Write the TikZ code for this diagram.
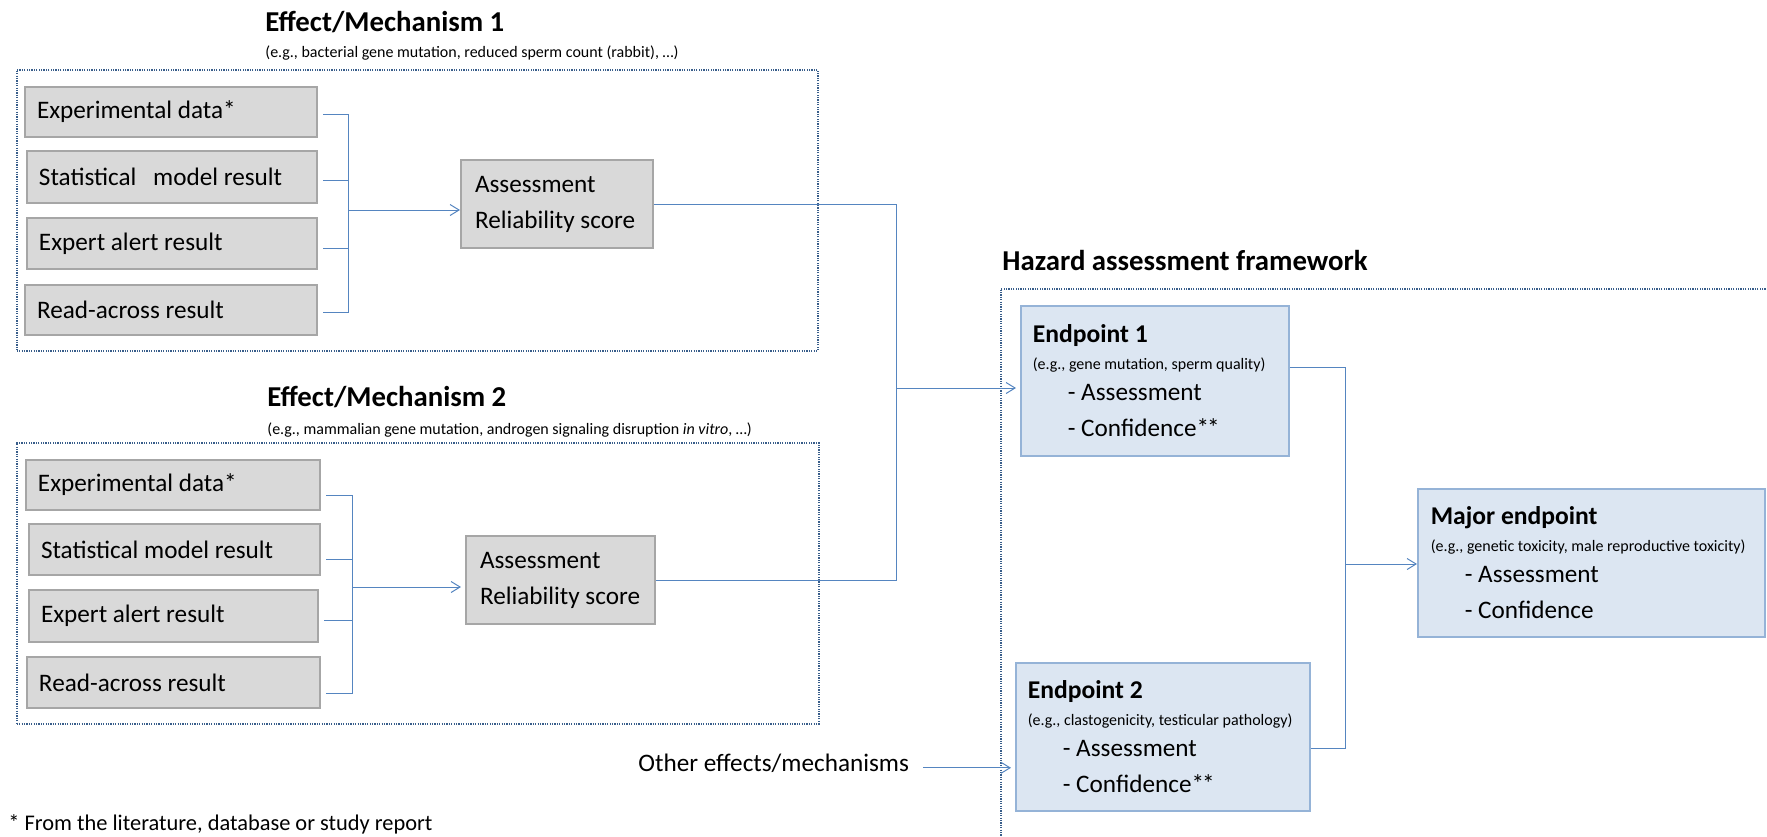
\documentclass[tikz,border=0pt]{standalone}
\usepackage{fontspec}
\setmainfont{Carlito}
\usetikzlibrary{arrows.meta}
\definecolor{gfill}{HTML}{D9D9D9}
\definecolor{gline}{HTML}{A6A6A6}
\definecolor{bfill}{HTML}{DCE6F2}
\definecolor{bline}{HTML}{95B3D7}
\definecolor{connc}{HTML}{5585C0}
\definecolor{dotc}{HTML}{385D8A}
\newcommand{\bodyfont}{\fontsize{12.6}{18}\selectfont}
\newcommand{\smallfont}{\fontsize{8}{10}\selectfont}
\newcommand{\titlefont}{\fontsize{14.4}{17}\selectfont\bfseries}
\newcommand{\epfont}{\fontsize{12.8}{18}\selectfont\bfseries}
\newcommand{\twostars}{*\kern-1pt*}
\begin{document}
\begin{tikzpicture}[x=0.5pt, y=-0.5pt,
  boxtext/.style={align=left, font=\bodyfont, execute at begin node={\spaceskip=0pt\xspaceskip=0pt\relax}},
  graybox/.style={boxtext, draw=gline, fill=gfill, line width=1pt, anchor=north west, inner xsep=6pt, inner ysep=0pt},
  bluebox/.style={boxtext, draw=bline, fill=bfill, line width=0.8pt, anchor=north west, inner xsep=6pt, inner ysep=0pt},
  dotbox/.style={draw=dotc, line width=0.75pt, dash pattern=on 0.6pt off 0.6pt, anchor=north west, inner sep=0pt},
  conline/.style={draw=connc, line width=0.5pt},
  arr/.style={conline, -{Straight Barb[length=4.5pt,width=5.5pt]}},
  title/.style={anchor=base west, inner sep=0pt, font=\titlefont},
  subtitle/.style={anchor=base west, inner sep=0pt, font=\smallfont},
  plain/.style={anchor=base west, inner sep=0pt, font=\bodyfont},
]
\useasboundingbox (0,0) rectangle (1767,836);
\clip (0,0) rectangle (1767,836);

% ---------- Effect / Mechanism 1 ----------
\node[title] (t1) at (265,31) {Effect/Mechanism 1};
\node[subtitle] (s1) at (265,57) {(e.g., bacterial gene mutation, reduced sperm count (rabbit), …)};
\node[dotbox, minimum width=400.5pt, minimum height=140.5pt] (g1) at (16,69) {};

\node[graybox, text width=134pt, minimum height=25pt] (m1a) at (24,86) {Experimental data*};
\node[graybox, text width=133pt, minimum height=26pt] (m1b) at (26,150) {Statistical\hspace{5.5pt} model result};
\node[graybox, text width=133pt, minimum height=25.5pt] (m1c) at (26,217) {Expert alert result};
\node[graybox, text width=134pt, minimum height=25pt] (m1d) at (24,284) {Read-across result};
\node[graybox, inner xsep=7pt, text width=82pt, minimum height=44pt] (r1) at (460,159) {Assessment\\Reliability score};

\coordinate (j1) at (348,210);
\draw[conline, shorten <=2.5pt, shorten >=2.5pt] ([yshift=-1pt]m1a.east) -- ([yshift=-1pt]m1a.east -| j1) -- ([yshift=-1pt]m1d.east -| j1) -- ([yshift=-1pt]m1d.east);
\draw[conline, shorten <=2.5pt] ([yshift=-1.5pt]m1b.east) -- ([yshift=-1.5pt]m1b.east -| j1);
\draw[conline, shorten <=2.5pt] ([yshift=-2.25pt]m1c.east) -- ([yshift=-2.25pt]m1c.east -| j1);
\draw[arr] (j1) -- (j1 -| r1.west);

% ---------- Effect / Mechanism 2 ----------
\node[title] (t2) at (267,406) {Effect/Mechanism 2};
\node[subtitle] (s2) at (267,434) {(e.g., mammalian gene mutation, androgen signaling disruption \textit{in vitro}, …)};
\node[dotbox, minimum width=401pt, minimum height=140.5pt] (g2) at (16,442) {};

\node[graybox, text width=135pt, minimum height=25pt] (m2a) at (25,459) {Experimental data*};
\node[graybox, text width=133.5pt, minimum height=25.5pt] (m2b) at (28,523) {Statistical model result};
\node[graybox, text width=132.5pt, minimum height=26pt] (m2c) at (28,589) {Expert alert result};
\node[graybox, text width=134.5pt, minimum height=25.5pt] (m2d) at (26,656) {Read-across result};
\node[graybox, inner xsep=7pt, text width=80.5pt, minimum height=44pt] (r2) at (465,535) {Assessment\\Reliability score};

\coordinate (j2) at (352,587);
\draw[conline, shorten <=2.5pt, shorten >=2.5pt] ([yshift=-5pt]m2a.east) -- ([yshift=-5pt]m2a.east -| j2) -- ([yshift=-5.25pt]m2d.east -| j2) -- ([yshift=-5.25pt]m2d.east);
\draw[conline, shorten <=2.5pt] ([yshift=-4.75pt]m2b.east) -- ([yshift=-4.75pt]m2b.east -| j2);
\draw[conline, shorten <=2.5pt] ([yshift=-2pt]m2c.east) -- ([yshift=-2pt]m2c.east -| j2);
\draw[arr, shorten >=2pt] (j2) -- (j2 -| r2.west);

% ---------- Hazard assessment framework ----------
\node[title] (t3) at (1002,270) {Hazard assessment framework};
\node[dotbox, minimum width=500pt, minimum height=400pt] (g3) at (1000,288) {};

\node[bluebox, text width=122pt, minimum height=75pt] (ep1) at (1020,305)
  {{\epfont Endpoint 1}\\[-4.5pt]{\smallfont\mbox{(e.g., gene mutation, sperm quality)}}\\[-2.5pt]\hspace*{17.5pt}- Assessment\\\hspace*{17.5pt}- Confidence\twostars};
\node[bluebox, text width=135pt, minimum height=74pt] (ep2) at (1015,662)
  {{\epfont Endpoint 2}\\[-4.5pt]{\smallfont\mbox{(e.g., clastogenicity, testicular pathology)}}\\[-2.5pt]\hspace*{17.5pt}- Assessment\\\hspace*{17.5pt}- Confidence\twostars};
\node[bluebox, inner xsep=6.5pt, text width=160.5pt, minimum height=74pt] (maj) at (1417,488)
  {{\epfont Major endpoint}\\[-4.5pt]{\smallfont\mbox{(e.g., genetic toxicity, male reproductive toxicity)}}\\[-2.5pt]\hspace*{17pt}- Assessment\\\hspace*{17pt}- Confidence};

\coordinate (k) at (896,388);
\draw[conline] (r1.east) -| (k) |- (r2.east);
\draw[arr, shorten >=2pt] (k) -- (k -| ep1.west);

\coordinate (jm) at (1345,564);
\draw[conline] ([yshift=6.5pt]ep1.east) -| (jm) |- ([yshift=-6pt]ep2.east);
\draw[arr] (jm) -- (jm -| maj.west);

\node[plain] (oth) at (638,771) {Other effects/mechanisms};
\draw[arr, shorten <=7pt, shorten >=2pt] ([yshift=-2.5pt]oth.east) -- ([yshift=-2.5pt]oth.east -| ep2.west);

\node[plain, font=\fontsize{11.2}{13}\selectfont] (fn) at (8,830) {* From the literature, database or study report};
\end{tikzpicture}
\end{document}
